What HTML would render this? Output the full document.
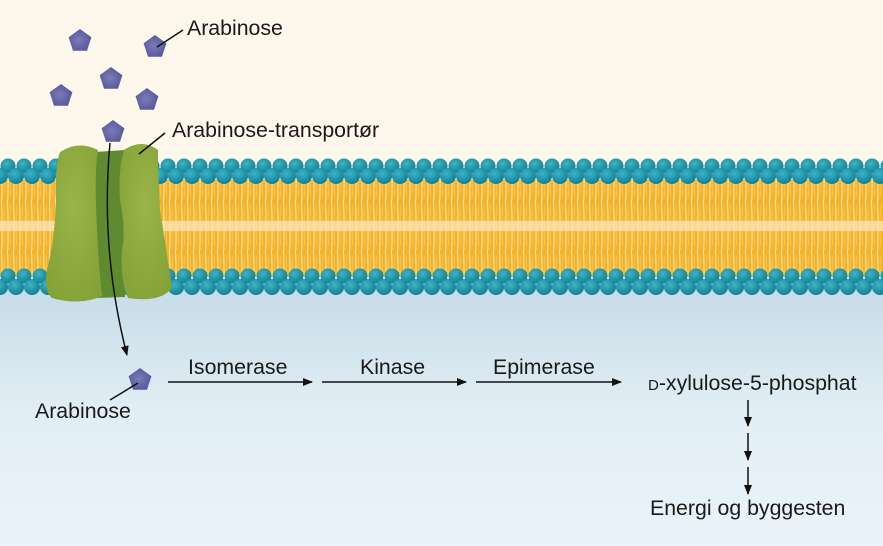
<!DOCTYPE html>
<html><head><meta charset="utf-8"><style>
html,body{margin:0;padding:0;}
svg{display:block;}
text{font-family:"Liberation Sans",Arial,sans-serif;fill:#1a1a1a;}
</style></head><body>
<svg width="883" height="546" viewBox="0 0 883 546" xmlns="http://www.w3.org/2000/svg">
<defs>
<linearGradient id="inside" x1="0" y1="0" x2="0" y2="1">
<stop offset="0" stop-color="#c4dbe7"/><stop offset="0.5" stop-color="#e2eef5"/><stop offset="1" stop-color="#eaf3f9"/>
</linearGradient>
<radialGradient id="head" cx="0.4" cy="0.35" r="0.7">
<stop offset="0" stop-color="#3fb3c4"/><stop offset="1" stop-color="#0d7d91"/>
</radialGradient>
<radialGradient id="pent" cx="0.45" cy="0.5" r="0.6">
<stop offset="0" stop-color="#7a7bb6"/><stop offset="1" stop-color="#55569a"/>
</radialGradient>
<radialGradient id="prot" cx="0.5" cy="0.4" r="0.7">
<stop offset="0" stop-color="#9ab44a"/><stop offset="1" stop-color="#83a136"/>
</radialGradient>
<pattern id="tails" width="6" height="50" patternUnits="userSpaceOnUse">
<rect width="6" height="50" fill="#f3b42c"/>
<path d="M1.5 0 Q2.5 25 1.8 50" stroke="#fde7b0" stroke-width="1" fill="none"/>
<path d="M4.5 5 Q3.8 25 4.6 46" stroke="#f7c54e" stroke-width="1" fill="none"/>
</pattern>
<pattern id="headsTop" width="16" height="40" patternUnits="userSpaceOnUse" x="0" y="157">
<circle cx="8" cy="9" r="7.5" fill="url(#head)"/>
<circle cx="0" cy="19" r="8" fill="url(#head)"/>
<circle cx="16" cy="19" r="8" fill="url(#head)"/>
</pattern>
<pattern id="headsBot" width="16" height="40" patternUnits="userSpaceOnUse" x="0" y="266">
<circle cx="8" cy="10" r="7.5" fill="url(#head)"/>
<circle cx="0" cy="21" r="8" fill="url(#head)"/>
<circle cx="16" cy="21" r="8" fill="url(#head)"/>
</pattern>
<marker id="ar" markerWidth="10" markerHeight="8" refX="9" refY="4" orient="auto" markerUnits="userSpaceOnUse">
<path d="M0 0 L10 4 L0 8 Z" fill="#111"/>
</marker>
</defs>
<rect width="883" height="546" fill="#fef7ec"/>
<rect y="280" width="883" height="266" fill="url(#inside)"/>
<rect x="0" y="180" width="883" height="96" fill="url(#tails)"/>
<rect x="0" y="221" width="883" height="10" fill="#fbe3b4" opacity="0.8"/>
<rect x="0" y="157" width="883" height="28" fill="url(#headsTop)"/>
<rect x="0" y="266" width="883" height="30" fill="url(#headsBot)"/>
<!-- protein -->
<path d="M95 152 L125 150 L125 297 L95 298 Z" fill="#5f8a2f"/>
<path d="M60 152 Q78 140 98 150 Q94 170 97 230 Q99 270 102 296 Q80 306 52 298 Q43 290 47 270 Q55 240 56 200 Q55 165 60 152 Z" fill="url(#prot)"/>
<path d="M124 150 Q142 138 158 150 Q158 170 160 210 Q168 260 172 288 Q160 303 128 298 Q120 280 122 250 Q126 230 120 200 Q118 170 124 150 Z" fill="url(#prot)"/>
<g fill="url(#pent)">
<path d="M0 -12 L11.4 -3.7 L7 9.7 L-7 9.7 L-11.4 -3.7 Z" transform="translate(80,41)"/>
<path d="M0 -12 L11.4 -3.7 L7 9.7 L-7 9.7 L-11.4 -3.7 Z" transform="translate(155,47)"/>
<path d="M0 -12 L11.4 -3.7 L7 9.7 L-7 9.7 L-11.4 -3.7 Z" transform="translate(111,79)"/>
<path d="M0 -12 L11.4 -3.7 L7 9.7 L-7 9.7 L-11.4 -3.7 Z" transform="translate(61,96)"/>
<path d="M0 -12 L11.4 -3.7 L7 9.7 L-7 9.7 L-11.4 -3.7 Z" transform="translate(147,100)"/>
<path d="M0 -12 L11.4 -3.7 L7 9.7 L-7 9.7 L-11.4 -3.7 Z" transform="translate(113,132)"/>
<path d="M0 -12 L11.4 -3.7 L7 9.7 L-7 9.7 L-11.4 -3.7 Z" transform="translate(140,380)"/>
</g>
<g stroke="#111" stroke-width="1.5" fill="none">
<line x1="157" y1="47" x2="183" y2="30"/>
<line x1="139" y1="154" x2="165" y2="133"/>
<line x1="138" y1="383" x2="110" y2="400"/>
<path d="M110 143 Q100 250 127 355" marker-end="url(#ar)"/>
<line x1="168" y1="382" x2="312" y2="382" marker-end="url(#ar)"/>
<line x1="322" y1="382" x2="466" y2="382" marker-end="url(#ar)"/>
<line x1="476" y1="382" x2="621" y2="382" marker-end="url(#ar)"/>
<line x1="748" y1="400" x2="748" y2="426" marker-end="url(#ar)"/>
<line x1="748" y1="433" x2="748" y2="460" marker-end="url(#ar)"/>
<line x1="748" y1="467" x2="748" y2="494" marker-end="url(#ar)"/>
</g>
<g font-size="21.3">
<text x="187" y="35">Arabinose</text>
<text x="172" y="137">Arabinose-transportør</text>
<text x="35" y="418">Arabinose</text>
<text x="188" y="374">Isomerase</text>
<text x="360" y="374">Kinase</text>
<text x="493" y="374">Epimerase</text>
<text x="648" y="390"><tspan font-size="15">D</tspan>-xylulose-5-phosphat</text>
<text x="650" y="515">Energi og byggesten</text>
</g>
</svg>
</body></html>
